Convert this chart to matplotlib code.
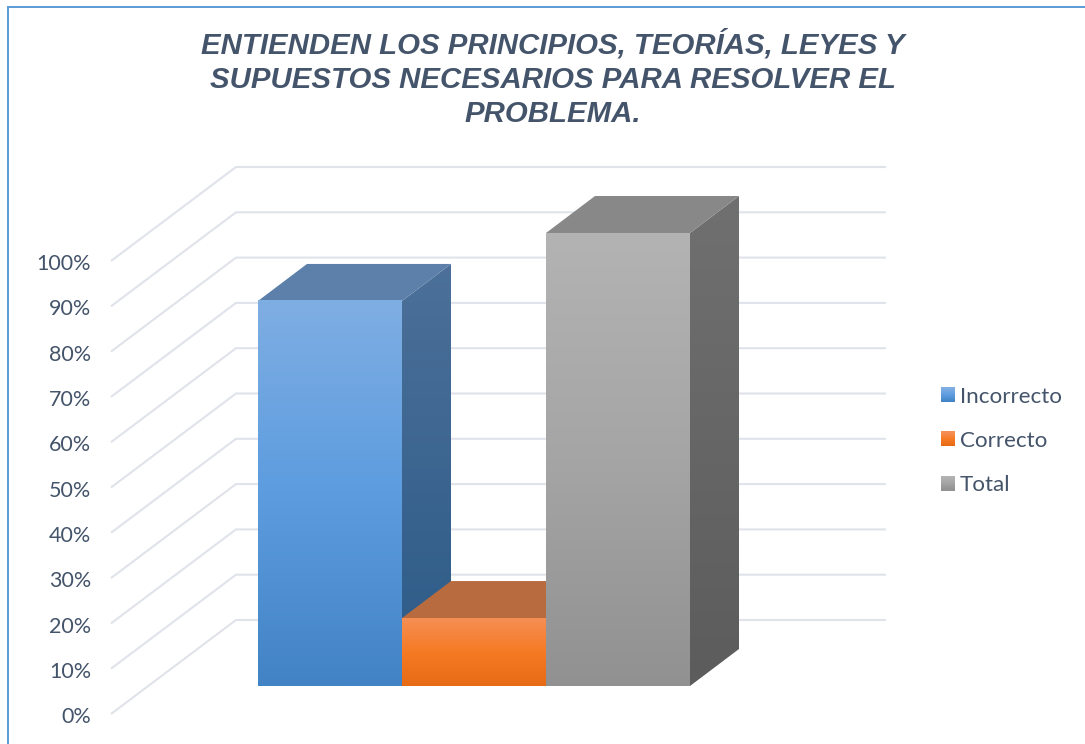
import matplotlib
matplotlib.use("Agg")
import matplotlib.pyplot as plt
import numpy as np
from matplotlib.colors import LinearSegmentedColormap as LSC
from matplotlib.legend_handler import HandlerBase
from matplotlib.lines import Line2D
from matplotlib.patches import Patch, Polygon, Rectangle

W, H = 1085, 744
TITLE = "ENTIENDEN LOS PRINCIPIOS, TEORÍAS, LEYES Y\nSUPUESTOS NECESARIOS PARA RESOLVER EL\nPROBLEMA."
categories = ["Incorrecto", "Correcto", "Total"]
values = [85, 15, 100]
ticks = list(range(0, 101, 10))

front_cols = [["#7FAEE3", "#5C9CDF", "#4283C6"],
              ["#F58F55", "#F67A24", "#E66B14"],
              ["#B3B3B3", "#A5A5A5", "#919191"]]
side_cols = [["#4C7099", "#2B5A87"], ["#A9582A", "#8F4A20"], ["#707070", "#5C5C5C"]]
top_cols = ["#5C80AA", "#B86B3E", "#888888"]
TEXT = "#44546A"
GRID = "#E0E3EA"
BORDER = "#5B9BD5"

# Axis scale: one category = 144 px, one percent = 4.53 px; front base at (258..., 686)
PX_X, PX_Y = 144.0, 4.53
X0_PX, Y0_PX = 330.0, 686.0
DX, DY = 49 / PX_X, 37 / PX_Y          # bar depth
WALL_X0, WALL_X1, WALL_X2 = [(p - X0_PX) / PX_X for p in (111, 236, 886)]
WALL_Y_FRONT = (Y0_PX - 714) / PX_Y
WALL_Y_BACK = (Y0_PX - 620) / PX_Y

fig = plt.figure(figsize=(W / 100, H / 100), dpi=100, facecolor="white")
ax = fig.add_axes([0, 0, 1, 1])
ax.axis("off")
xlim = (-X0_PX / PX_X, (W - X0_PX) / PX_X)
ylim = ((Y0_PX - H) / PX_Y, Y0_PX / PX_Y)


def gradient(cols, x0, x1, y0, y1, clip=None, z=2):
    cm = LSC.from_list("g", cols)
    im = ax.imshow(np.linspace(0, 1, 256)[:, None], cmap=cm, extent=(x0, x1, y0, y1),
                   aspect="auto", origin="upper", zorder=z, interpolation="bilinear")
    if clip is not None:
        clip.set_transform(ax.transData)
        im.set_clip_path(clip)
    return im


# Walls
for t in ticks:
    ax.plot([WALL_X0, WALL_X1, WALL_X2],
            [t + WALL_Y_FRONT, t + WALL_Y_BACK, t + WALL_Y_BACK],
            color=GRID, lw=1.5, zorder=1, solid_capstyle="butt", solid_joinstyle="miter")
    ax.text((91 - X0_PX) / PX_X, t + WALL_Y_FRONT - 0.7, f"{t}%", ha="right", va="center",
            color=TEXT, fontsize=15.5, family="Lato")

# Bars
for i, (v, fc, sc, tc) in enumerate(zip(values, front_cols, side_cols, top_cols)):
    l, r = i - 0.5, i + 0.5
    z = 2 + i
    gradient(fc, l, r, 0, v, z=z + 0.2)
    side = Polygon([(r, 0), (r + DX, DY), (r + DX, v + DY), (r, v)], closed=True)
    gradient(sc, r, r + DX, 0, v + DY, clip=side, z=z)
    ax.add_patch(Polygon([(l, v), (r, v), (r + DX, v + DY), (l + DX, v + DY)], closed=True,
                         facecolor=tc, edgecolor="none", zorder=z + 0.1))
ax.set_xlim(*xlim)
ax.set_ylim(*ylim)

# Title
fig.text(553 / W, 1 - 78.5 / H, TITLE, ha="center", va="center", color=TEXT, fontsize=21.2,
         family="Liberation Sans", weight="bold", style="italic", linespacing=1.3)


# Legend with gradient swatches
class GradientHandler(HandlerBase):
    def __init__(self, cols):
        super().__init__()
        self.cm = LSC.from_list("g", cols)

    def create_artists(self, legend, orig, xd, yd, width, height, fontsize, trans):
        n = 14
        return [Rectangle((-xd, -yd + height * k / n), width, height / n + 0.3,
                          facecolor=self.cm(1 - k / (n - 1)), edgecolor="none", transform=trans)
                for k in range(n)]


handles = [Patch(label=c) for c in categories]
hmap = {h: GradientHandler(fc) for h, fc in zip(handles, front_cols)}
fs = 16.1
px = fs * 100 / 72
ax.legend(handles=handles, handler_map=hmap, loc="center left",
          bbox_to_anchor=(941 / W, 1 - 441 / H), bbox_transform=fig.transFigure,
          frameon=False, fontsize=fs, labelcolor=TEXT,
          handlelength=14 / px, handleheight=14 / px, handletextpad=5 / px,
          labelspacing=1.08, borderpad=0, borderaxespad=0)
for txt in ax.get_legend().get_texts():
    txt.set_family("Lato")

# Picture border (top and left edges only show)
fig.add_artist(Line2D([8 / W, 8 / W, 1], [0, 1 - 6.5 / H, 1 - 6.5 / H], color=BORDER, lw=1.4,
                      transform=fig.transFigure, solid_joinstyle="miter"))

fig.savefig("out.png", dpi=100, facecolor="white")
